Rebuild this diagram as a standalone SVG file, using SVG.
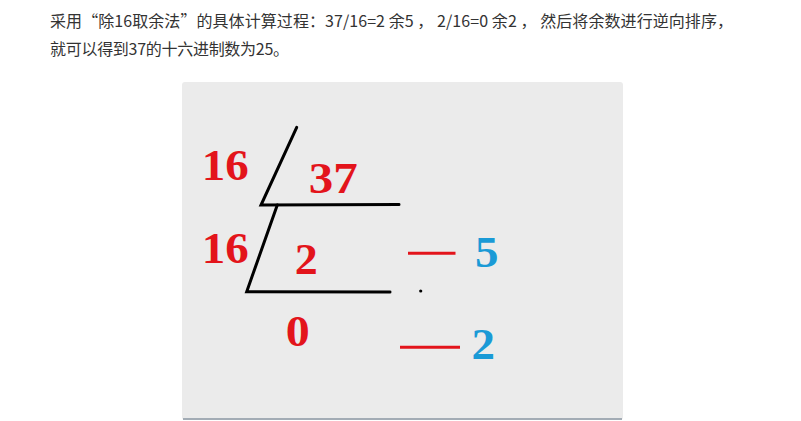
<svg xmlns="http://www.w3.org/2000/svg" width="801" height="421" viewBox="0 0 801 421">
<style>
.cap{font-family:"Noto Sans CJK SC","Liberation Sans",sans-serif;font-size:16px;fill:#333333}
.num{font-family:"Liberation Serif","DejaVu Serif",serif;font-weight:bold;font-size:44px;text-anchor:middle}
.red{fill:#e3141b}
.blue{fill:#1a9ad6}
.blk{stroke:#000;stroke-width:3;stroke-linecap:round;fill:none}
.dash{stroke:#e3141b;stroke-width:3;fill:none}
</style>
<rect width="801" height="421" fill="#ffffff"/>
<g id="caption">
<text class="cap" x="50" y="27" textLength="683" lengthAdjust="spacing">采用“除16取余法”的具体计算过程：37/16=2 余5 ， 2/16=0 余2 ， 然后将余数进行逆向排序，</text>
<text class="cap" x="50" y="55" textLength="239" lengthAdjust="spacing">就可以得到37的十六进制数为25。</text>
</g>
<g id="panel">
<rect x="182" y="82" width="441" height="338" rx="3" fill="#ebebeb"/>
<line x1="183" y1="419" x2="622" y2="419" stroke="#a3acb5" stroke-width="2"/>
</g>
<g id="connectors">
<polyline class="blk" points="296.7,127.3 261,205 399,204.5"/>
<polyline class="blk" points="277.3,205 246.7,291.7 390,292"/>
<line class="dash" x1="408" y1="253.3" x2="455.5" y2="253.3"/>
<line class="dash" x1="400" y1="347.3" x2="460" y2="347.3"/>
<circle cx="420.7" cy="291" r="1.6" fill="#000"/>
</g>
<g id="divisor1"><text class="num red" x="225.3" y="180" textLength="47" lengthAdjust="spacingAndGlyphs">16</text></g>
<g id="dividend"><text class="num red" x="333.3" y="193" textLength="49" lengthAdjust="spacingAndGlyphs">37</text></g>
<g id="divisor2"><text class="num red" x="225.3" y="263" textLength="47" lengthAdjust="spacingAndGlyphs">16</text></g>
<g id="quotient1"><text class="num red" x="306.3" y="274" textLength="23" lengthAdjust="spacingAndGlyphs">2</text></g>
<g id="quotient2"><text class="num red" x="297.8" y="346" textLength="24" lengthAdjust="spacingAndGlyphs">0</text></g>
<g id="remainder1"><text class="num blue" x="486.7" y="267" textLength="23.5" lengthAdjust="spacingAndGlyphs">5</text></g>
<g id="remainder2"><text class="num blue" x="483.3" y="359" textLength="23.5" lengthAdjust="spacingAndGlyphs">2</text></g>
</svg>
